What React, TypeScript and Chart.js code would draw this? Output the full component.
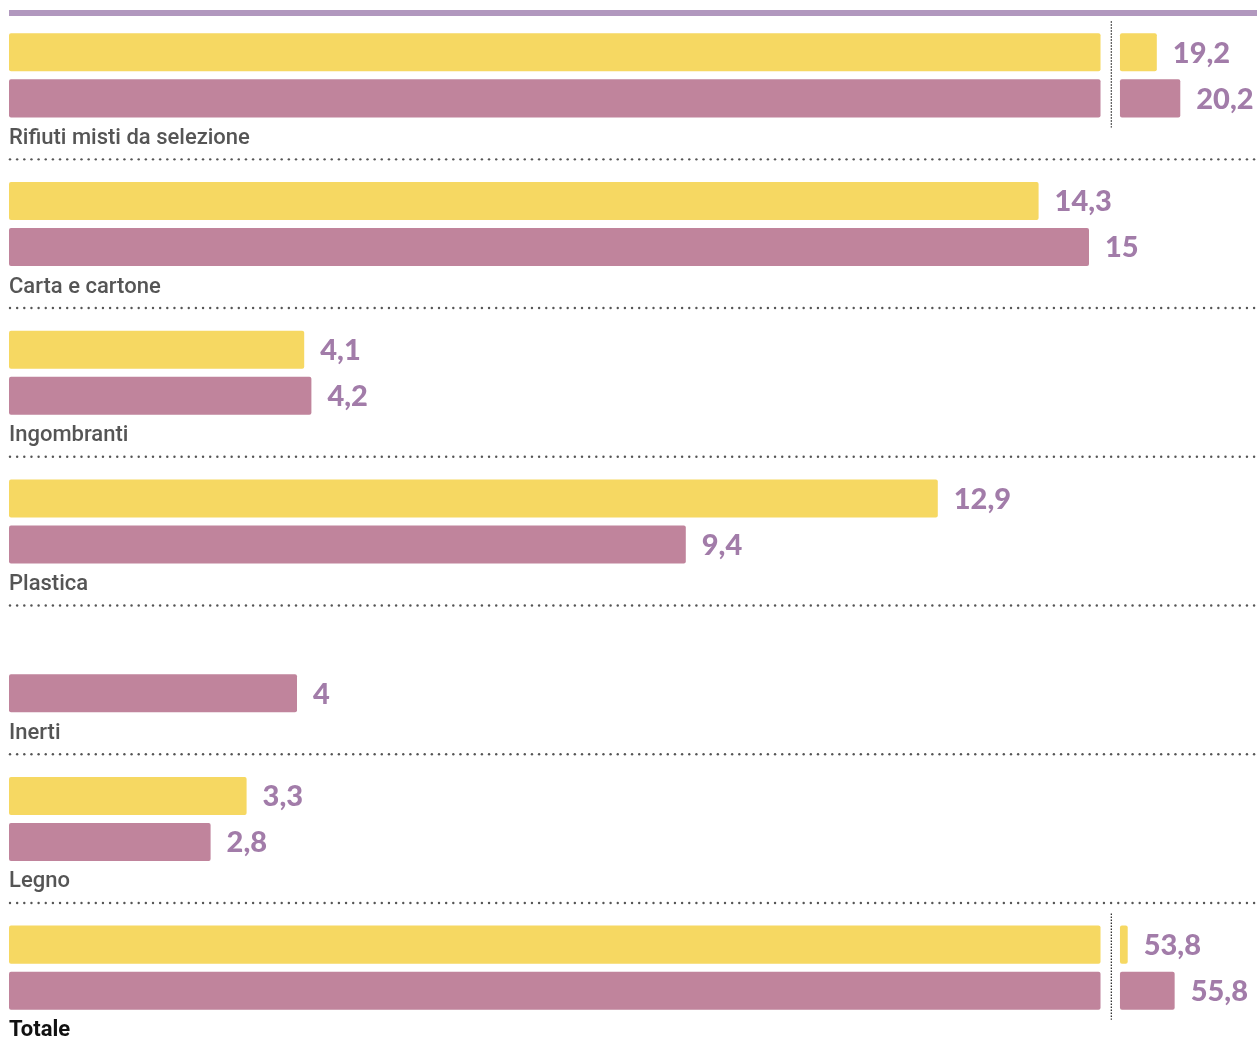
import React, { useEffect, useRef } from "react";
import { Chart, registerables } from "chart.js";

Chart.register(...registerables);

const CATEGORIES = [
  "Rifiuti misti da selezione",
  "Carta e cartone",
  "Ingombranti",
  "Plastica",
  "Inerti",
  "Legno",
  "Totale",
];
const SERIES_A = [19.2, 14.3, 4.1, 12.9, null, 3.3, 53.8];
const SERIES_B = [20.2, 15, 4.2, 9.4, 4, 2.8, 55.8];
const SERIES_NAMES = ["Serie A", "Serie B"];

// axis break (for the two long rows)
const BREAK_AT = 15.16;
const BREAK_LINE = 15.31;
const STUB_START = 15.43;
const STUB_SCALE = 0.326;
const STUB_BASE = [17.63, null, null, null, null, null, 53.47];

const YELLOW = "#f6d862";
const MAUVE = "#c0849c";
const LABEL_PURPLE = "#a27ca9";
const TOP_LINE = "#b198be";

const mainSeg = (vals: (number | null)[]) =>
  vals.map((v) => (v == null ? null : [0, Math.min(v, BREAK_AT)]));
const stubSeg = (vals: (number | null)[]) =>
  vals.map((v, i) => {
    const base = STUB_BASE[i];
    if (v == null || base == null || v <= BREAK_AT) return null;
    return [STUB_START, STUB_START + (v - base) * STUB_SCALE];
  });

const fmt = (v: number) => String(v).replace(".", ",");

const decorPlugin = {
  id: "decor",
  afterDatasetsDraw(chart: any) {
    const { ctx, scales } = chart;
    const yScale = scales.y;
    const xScale = scales.x;
    const W = chart.width;
    ctx.save();
    // top line
    ctx.fillStyle = TOP_LINE;
    ctx.fillRect(9, 10, W - 9, 6);

    const values = [SERIES_A, SERIES_B];
    CATEGORIES.forEach((cat, i) => {
      const cy = yScale.getPixelForValue(i);
      // category label
      const isTotal = i === CATEGORIES.length - 1;
      ctx.fillStyle = isTotal ? "#111111" : "#555555";
      ctx.font = (isTotal ? "bold " : "500 ") + "22px Roboto, sans-serif";
      ctx.textAlign = "left";
      ctx.textBaseline = "middle";
      ctx.fillText(cat, 9, cy + 63);
      // dotted separator
      if (!isTotal) {
        ctx.fillStyle = "#555555";
        const ly = cy + 84;
        for (let x = 10; x < W; x += 7.15) {
          ctx.beginPath();
          ctx.arc(x, ly, 1.2, 0, Math.PI * 2);
          ctx.fill();
        }
      }
      // values
      let top = Infinity;
      let bottom = -Infinity;
      let broken = false;
      for (let s = 0; s < 2; s++) {
        const v = values[s][i];
        if (v == null) continue;
        const mainEl = chart.getDatasetMeta(s).data[i];
        const stubEl = chart.getDatasetMeta(s + 2).data[i];
        const stubVal = chart.data.datasets[s + 2].data[i];
        const el = stubVal ? stubEl : mainEl;
        if (stubVal) broken = true;
        top = Math.min(top, mainEl.y - mainEl.height / 2);
        bottom = Math.max(bottom, mainEl.y + mainEl.height / 2);
        ctx.fillStyle = LABEL_PURPLE;
        ctx.font = "900 29px Lato, sans-serif";
        ctx.textAlign = "left";
        ctx.textBaseline = "middle";
        ctx.fillText(fmt(v), el.x + 16, el.y + 1);
      }
      if (broken) {
        const bx = xScale.getPixelForValue(BREAK_LINE);
        ctx.strokeStyle = "#222222";
        ctx.lineWidth = 1.2;
        ctx.setLineDash([1.5, 1.5]);
        ctx.beginPath();
        ctx.moveTo(bx, top - 12);
        ctx.lineTo(bx, bottom + 10);
        ctx.stroke();
        ctx.setLineDash([]);
      }
    });
    ctx.restore();
  },
};

export default function App() {
  const ref = useRef<HTMLCanvasElement | null>(null);
  useEffect(() => {
    if (!ref.current) return;
    const barCommon = {
      categoryPercentage: 0.619,
      barPercentage: 0.826,
      borderRadius: 2,
      borderSkipped: false,
    };
    const chart = new Chart(ref.current, {
      type: "bar",
      data: {
        labels: CATEGORIES,
        datasets: [
          { label: SERIES_NAMES[0], data: mainSeg(SERIES_A) as any, backgroundColor: YELLOW, stack: "a", ...barCommon },
          { label: SERIES_NAMES[1], data: mainSeg(SERIES_B) as any, backgroundColor: MAUVE, stack: "b", ...barCommon },
          { label: SERIES_NAMES[0] + " (oltre)", data: stubSeg(SERIES_A) as any, backgroundColor: YELLOW, stack: "a", ...barCommon },
          { label: SERIES_NAMES[1] + " (oltre)", data: stubSeg(SERIES_B) as any, backgroundColor: MAUVE, stack: "b", ...barCommon },
        ],
      },
      options: {
        indexAxis: "y",
        responsive: false,
        animation: false,
        layout: { padding: { top: 1, bottom: 11, left: 9, right: 6 } },
        plugins: { legend: { display: false }, tooltip: { enabled: false } },
        scales: {
          x: { type: "linear", min: 0, max: 17.25, stacked: false, display: false },
          y: { type: "category", display: false, offset: true },
        },
      },
      plugins: [decorPlugin],
    });
    return () => chart.destroy();
  }, []);
  return (
    <div style={{ position: "absolute", left: 0, top: 0, width: 1257, height: 1053, background: "#fff" }}>
      <canvas ref={ref} width={1257} height={1053} style={{ display: "block" }} />
    </div>
  );
}
